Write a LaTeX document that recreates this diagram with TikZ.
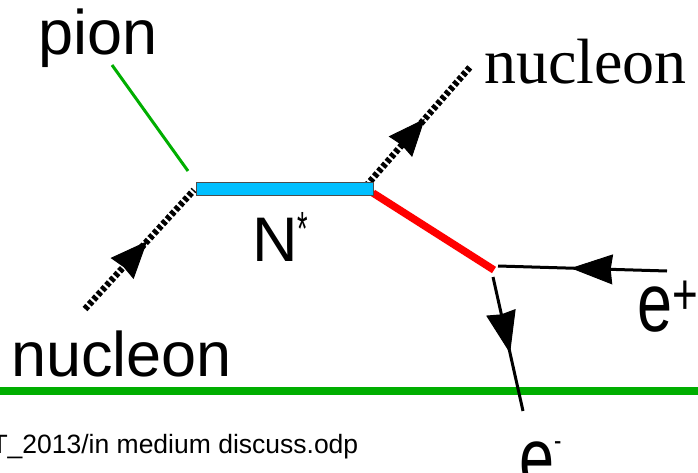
\documentclass[tikz,border=0pt]{standalone}
\usepackage{fontspec}
\setmainfont{Liberation Sans}
\newfontfamily\serifnuc{Liberation Serif}
\usetikzlibrary{arrows.meta,decorations.markings}
\definecolor{pgreen}{RGB}{0,174,0}
\definecolor{nblue}{RGB}{0,191,255}
\definecolor{nred}{RGB}{255,0,0}
\tikzset{
  txt/.style={inner sep=0pt, anchor=base west, font=\fontsize{63}{70}\selectfont},
  dashnuc/.style={line width=6.5pt, dash pattern=on 4pt off 2.4pt},
  nucarrow/.style={postaction={decorate}, decoration={markings,
    mark=at position #1 with {\arrow[solid,line width=1pt]{Stealth[length=37pt,width=31pt,inset=2pt]}}}},
  eline/.style={line width=3pt},
  earrow/.style={postaction={decorate}, decoration={markings,
    mark=at position #1 with {\arrow[solid,line width=1pt]{Stealth[length=42pt,width=30pt,inset=2pt]}}}},
}
\begin{document}
\begin{tikzpicture}[x=1pt,y=-1pt]
\useasboundingbox (0,0) rectangle (698,473);
% coordinates
\coordinate (gl1) at (-5,391);
\coordinate (gl2) at (703,391);
\coordinate (pi1) at (112,65);
\coordinate (pi2) at (188,171);
\coordinate (ni1) at (85,309);
\coordinate (ni2) at (194,190);
\coordinate (no1) at (366,186);
\coordinate (no2) at (471,66);
\coordinate (r1) at (373,193);
\coordinate (r2) at (494,270);
\coordinate (ep1) at (667,271);
\coordinate (ep2) at (498,266);
\coordinate (em1) at (493,277);
\coordinate (em2) at (523,411);
% lines
\draw[pgreen, line width=7.5pt] (gl1) -- (gl2);
\draw[pgreen, line width=3pt] (pi1) -- (pi2);
\draw[dashnuc, nucarrow=0.57] (ni1) -- (ni2);
\draw[dashnuc, nucarrow=0.56] (no1) -- (no2);
\draw[nred, line width=7.5pt] (r1) -- (r2);
\node[draw=black!70, line width=0.8pt, fill=nblue, inner sep=0pt, minimum width=177pt, minimum height=13pt] (nstarbox) at (284.5,188.5) {};
\draw[eline, earrow=0.57] (ep1) -- (ep2);
\draw[eline, earrow=0.57] (em1) -- (em2);
% texts
\node[txt] (pion) at (38.5,55) {pion};
\node[txt, font=\serifnuc\fontsize{64}{70}\selectfont] (nucout) at (484,83.3) {nucleon};
\node[txt] (nucin) at (11,376.7) {nucleon};
\node[txt] (nstar) at (252,261.7) {N\raisebox{16pt}{\fontsize{30}{30}\selectfont\scalebox{0.9}[1.6]{*}}};
\node[txt] (eplus) at (637.5,331.7) {\scalebox{1}[1.32]{e\raisebox{13pt}{\fontsize{44}{44}\selectfont +}}};
\node[txt] (eminus) at (519,486) {\scalebox{1}[1.32]{e\raisebox{27pt}{\fontsize{22}{22}\selectfont -}}};
\node[txt, font=\fontsize{26.5}{30}\selectfont] (fname) at (-8.7,453) {T\_2013/in medium discuss.odp};
\end{tikzpicture}
\end{document}
